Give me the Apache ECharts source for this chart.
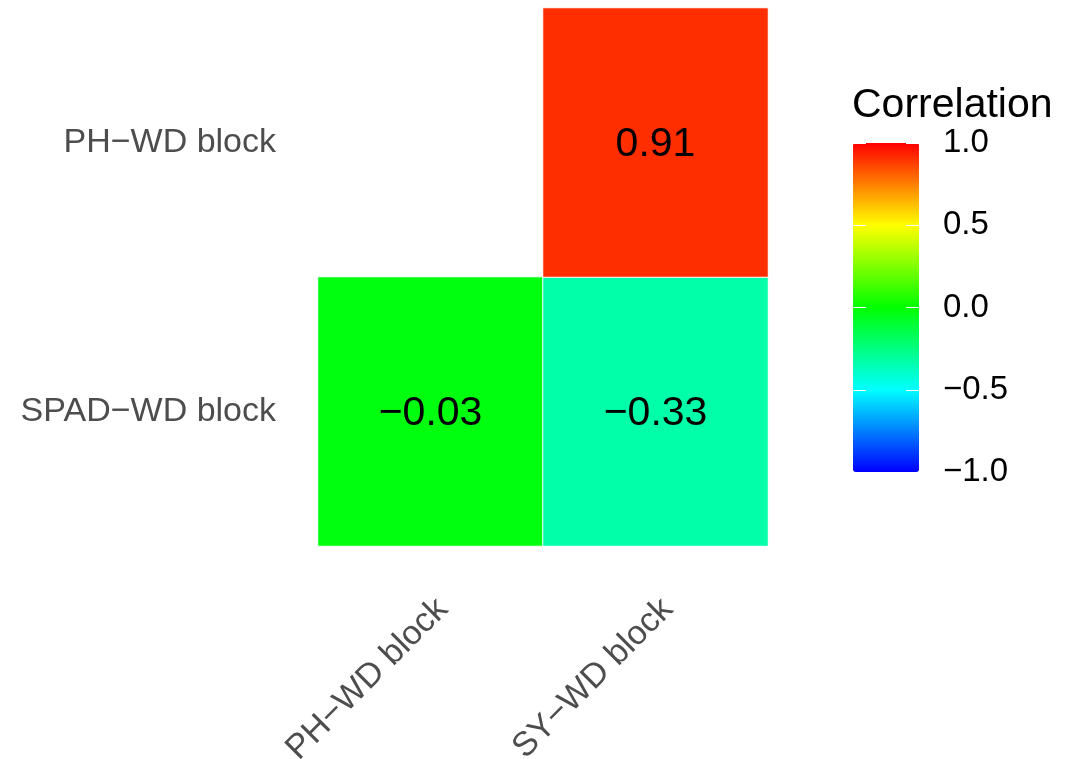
<!DOCTYPE html>
<html>
<head>
<meta charset="utf-8">
<script src="https://cdn.jsdelivr.net/npm/echarts@6/dist/echarts.min.js"></script>
<style>
html,body{margin:0;padding:0;background:#fff;}
#chart{width:1071px;height:759px;}
</style>
</head>
<body>
<div id="chart"></div>
<script>
// ---- data ----
const xCategories = ['PH\u2212WD block', 'SY\u2212WD block'];
const yCategories = ['SPAD\u2212WD block', 'PH\u2212WD block'];
const cellX = [0, 1, 1];
const cellY = [0, 0, 1];
const cellValues = [-0.03, -0.33, 0.91];
const legendTitle = 'Correlation';
const legendMin = -1;
const legendMax = 1;
const legendStep = 0.5;
const legendColors = ['#0000FF', '#00FFFF', '#00FF00', '#FFFF00', '#FF0000'];

const fmtMinus = s => String(s).replace('-', '\u2212');
const heatData = cellValues.map((v, i) => [cellX[i], cellY[i], v]);

const FONT = '"Liberation Sans", Arial, sans-serif';
const chart = echarts.init(document.getElementById('chart'), null, {renderer: 'canvas'});

const option = {
  backgroundColor: '#ffffff',
  animation: false,
  title: {
    text: legendTitle,
    left: 852,
    top: 85,
    padding: 0,
    textStyle: {fontFamily: FONT, fontSize: 41, fontWeight: 'normal', color: '#000'}
  },
  grid: [
    {left: 318, top: 8, width: 450, height: 538, containLabel: false, outerBoundsMode: 'none'},
    {left: 853, top: 143, width: 66, height: 329, containLabel: false, outerBoundsMode: 'none'}
  ],
  xAxis: [
    {
      type: 'category', data: xCategories, gridIndex: 0,
      axisLine: {show: false}, axisTick: {show: false}, splitLine: {show: false},
      axisLabel: {rotate: 45, margin: 46, verticalAlign: 'top', fontFamily: FONT, fontSize: 34, color: '#4D4D4D', interval: 0}
    },
    {type: 'value', gridIndex: 1, show: false, min: 0, max: 1}
  ],
  yAxis: [
    {
      type: 'category', data: yCategories, gridIndex: 0,
      axisLine: {show: false}, axisTick: {show: false}, splitLine: {show: false},
      axisLabel: {margin: 42, padding: [6, 0, 0, 0], fontFamily: FONT, fontSize: 34, color: '#4D4D4D'}
    },
    {
      type: 'value', gridIndex: 1, position: 'right', min: legendMin, max: legendMax, interval: legendStep,
      zlevel: 1, z: 20,
      axisLine: {show: false},
      axisTick: {show: false},
      splitLine: {show: true, showMinLine: true, showMaxLine: true,
        lineStyle: {color: '#ffffff', width: 1.2, type: [13, 40]}},
      axisLabel: {margin: 24, fontFamily: FONT, fontSize: 33, color: '#000',
        formatter: v => fmtMinus(v.toFixed(1))}
    }
  ],
  visualMap: {
    type: 'continuous',
    min: legendMin, max: legendMax,
    seriesIndex: 0,
    calculable: false,
    hoverLink: false,
    realtime: false,
    left: 853, top: 143,
    padding: 0,
    itemWidth: 66, itemHeight: 329,
    showLabel: false,
    text: null,
    z: 2,
    inRange: {color: legendColors}
  },
  series: [{
    type: 'heatmap',
    xAxisIndex: 0, yAxisIndex: 0,
    data: heatData,
    itemStyle: {borderColor: '#ffffff', borderWidth: 1},
    label: {
      show: true, fontFamily: FONT, fontSize: 41, color: '#000', offset: [0, 2],
      formatter: p => fmtMinus(p.value[2].toFixed(2))
    },
    emphasis: {disabled: true}
  }]
};
chart.setOption(option);
</script>
</body>
</html>
